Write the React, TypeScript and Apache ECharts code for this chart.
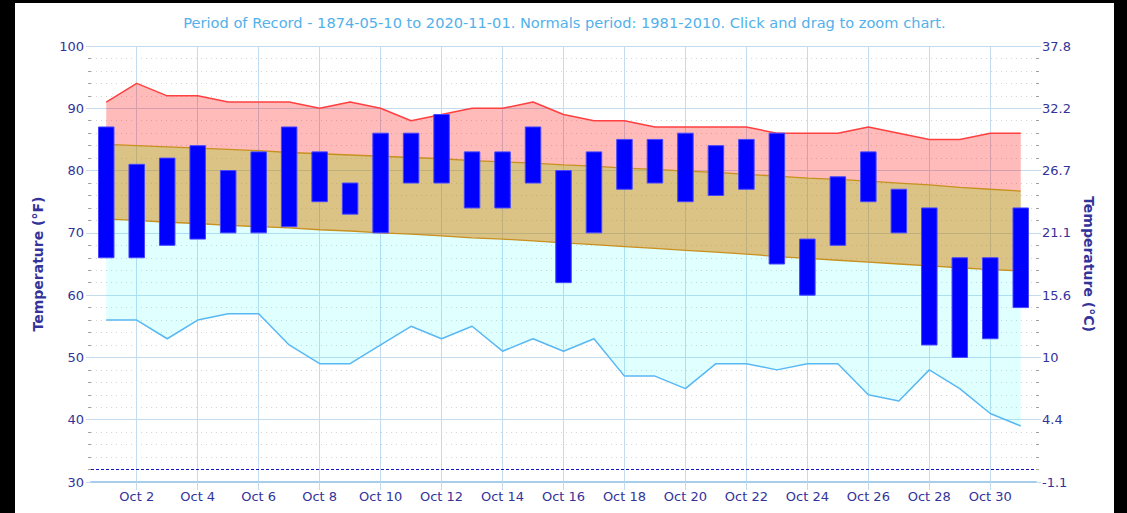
import React, { useEffect, useRef } from "react";
import * as echarts from "echarts";

const days = [1, 2, 3, 4, 5, 6, 7, 8, 9, 10, 11, 12, 13, 14, 15, 16, 17, 18, 19, 20, 21, 22, 23, 24, 25, 26, 27, 28, 29, 30, 31];
const actualHigh = [87, 81, 82, 84, 80, 83, 87, 83, 78, 86, 86, 89, 83, 83, 87, 80, 83, 85, 85, 86, 84, 85, 86, 69, 79, 83, 77, 74, 66, 66, 74];
const actualLow = [66, 66, 68, 69, 70, 70, 71, 75, 73, 70, 78, 78, 74, 74, 78, 62, 70, 77, 78, 75, 76, 77, 65, 60, 68, 75, 70, 52, 50, 53, 58];
const recordHigh = [91, 94, 92, 92, 91, 91, 91, 90, 91, 90, 88, 89, 90, 90, 91, 89, 88, 88, 87, 87, 87, 87, 86, 86, 86, 87, 86, 85, 85, 86, 86];
const recordLow = [56, 56, 53, 56, 57, 57, 52, 49, 49, 52, 55, 53, 55, 51, 53, 51, 53, 47, 47, 45, 49, 49, 48, 49, 49, 44, 43, 48, 45, 41, 39];
const normalHigh = [84.2, 84.0, 83.8, 83.6, 83.4, 83.2, 82.9, 82.7, 82.5, 82.3, 82.1, 81.9, 81.6, 81.4, 81.2, 80.9, 80.7, 80.4, 80.2, 79.9, 79.7, 79.4, 79.1, 78.8, 78.6, 78.3, 78.0, 77.7, 77.3, 77.0, 76.7];
const normalLow = [72.2, 72.0, 71.7, 71.5, 71.2, 71.0, 70.8, 70.5, 70.3, 70.0, 69.8, 69.5, 69.2, 69.0, 68.7, 68.4, 68.1, 67.8, 67.5, 67.2, 66.9, 66.6, 66.2, 65.9, 65.6, 65.3, 65.0, 64.7, 64.4, 64.1, 63.9];
const xTickDays = [2, 4, 6, 8, 10, 12, 14, 16, 18, 20, 22, 24, 26, 28, 30];
const fahrenheitTicks = [30, 40, 50, 60, 70, 80, 90, 100];
const celsiusLabels = ["-1.1", "4.4", "10", "15.6", "21.1", "26.7", "32.2", "37.8"];
const freezing = 32;
const titleText = "Period of Record - 1874-05-10 to 2020-11-01. Normals period: 1981-2010. Click and drag to zoom chart.";

const FONT = "DejaVu Sans";
const LABEL = "#33339a";
const GRID = "#c4dbee";

export default function App() {
  const ref = useRef<HTMLDivElement>(null);
  useEffect(() => {
    if (!ref.current) return;
    const chart = echarts.init(ref.current, null, { renderer: "svg" });
    const diff = (a: number[], b: number[]) => days.map((_, i) => +(a[i] - b[i]).toFixed(2));
    const bars = days.map((d, i) => [d, actualLow[i], actualHigh[i]]);

    const yCommon = {
      type: "value",
      min: fahrenheitTicks[0],
      max: fahrenheitTicks[fahrenheitTicks.length - 1],
      interval: 10,
      axisLine: { show: false },
      axisTick: { show: true, length: 5, lineStyle: { color: GRID } },
      minorTick: { show: true, splitNumber: 5, length: 3, lineStyle: { color: "#a0a0a0" } },
      nameLocation: "middle",
      nameTextStyle: { color: LABEL, fontSize: 14, fontWeight: "bold", fontFamily: FONT },
    };

    chart.setOption({
      animation: false,
      backgroundColor: "#ffffff",
      textStyle: { fontFamily: FONT },
      title: {
        text: titleText,
        left: "center",
        top: 7,
        textStyle: { color: "#52b1ea", fontSize: 14.6, fontWeight: "normal", fontFamily: FONT },
      },
      grid: { left: 76, right: 78, top: 43, bottom: 31, containLabel: false },
      xAxis: [
        {
          type: "value",
          min: 0.5,
          max: 31.5,
          axisLine: { show: true, onZero: false, lineStyle: { color: "#a6cdea", width: 2 } },
          axisTick: { show: true, length: 8, customValues: xTickDays, lineStyle: { color: GRID } },
          axisLabel: {
            customValues: xTickDays,
            formatter: (v: number) => "Oct " + v,
            color: LABEL,
            fontSize: 13,
            margin: 8,
            fontFamily: FONT,
          },
          splitLine: { show: true, lineStyle: { color: GRID, width: 1 } },
        },
        {
          type: "category",
          data: days.map(String),
          boundaryGap: true,
          show: false,
          position: "bottom",
        },
      ],
      yAxis: [
        {
          ...yCommon,
          position: "left",
          name: "Temperature (°F)",
          nameGap: 46,
          nameRotate: 90,
          axisLabel: { color: LABEL, fontSize: 13, margin: 7, fontFamily: FONT },
          splitLine: { show: true, lineStyle: { color: GRID, width: 1 } },
          minorSplitLine: { show: true, lineStyle: { color: "#d6d6d6", type: [1, 4], width: 1 } },
        },
        {
          ...yCommon,
          position: "right",
          name: "Temperature (°C)",
          nameGap: 46,
          nameRotate: -90,
          axisLabel: {
            color: LABEL,
            fontSize: 13,
            margin: 6,
            fontFamily: FONT,
            formatter: (v: number) => celsiusLabels[fahrenheitTicks.indexOf(v)] ?? "",
          },
          splitLine: { show: false },
        },
      ],
      series: [
        {
          name: "Record Low",
          type: "line",
          xAxisIndex: 1,
          stack: "band",
          data: recordLow,
          symbol: "none",
          lineStyle: { color: "#58b8f4", width: 1.5 },
          z: 3,
          markLine: {
            silent: true,
            symbol: "none",
            label: { show: false },
            lineStyle: { color: "#1414c0", type: [3, 2], width: 1.2 },
            data: [{ yAxis: freezing }],
          },
        },
        {
          name: "Normal Low",
          type: "line",
          xAxisIndex: 1,
          stack: "band",
          data: diff(normalLow, recordLow),
          symbol: "none",
          lineStyle: { color: "#c8901e", width: 1.3 },
          areaStyle: { color: "rgba(0,255,255,0.12)", opacity: 1 },
          z: 2,
        },
        {
          name: "Normal High",
          type: "line",
          xAxisIndex: 1,
          stack: "band",
          data: diff(normalHigh, normalLow),
          symbol: "none",
          lineStyle: { color: "#c8901e", width: 1.3 },
          areaStyle: { color: "rgba(184,134,11,0.5)", opacity: 1 },
          z: 2,
        },
        {
          name: "Record High",
          type: "line",
          xAxisIndex: 1,
          stack: "band",
          data: diff(recordHigh, normalHigh),
          symbol: "none",
          lineStyle: { color: "#ff4040", width: 1.5 },
          areaStyle: { color: "rgba(255,0,0,0.27)", opacity: 1 },
          z: 2,
        },
        {
          name: "Actual",
          type: "custom",
          xAxisIndex: 0,
          data: bars,
          encode: { x: 0, y: [1, 2] },
          z: 5,
          renderItem: (params: any, api: any) => {
            const x = api.value(0);
            const lo = api.value(1);
            const hi = api.value(2);
            const p1 = api.coord([x, hi]);
            const p2 = api.coord([x, lo]);
            const w = 15.5;
            return {
              type: "rect",
              shape: { x: p1[0] - w / 2, y: p1[1], width: w, height: p2[1] - p1[1] },
              style: { fill: "#0000ff", stroke: "#4646ff", lineWidth: 1 },
            };
          },
        },
      ],
    });
    return () => chart.dispose();
  }, []);

  return (
    <div style={{ position: "fixed", left: 0, top: 0, width: 1127, height: 513, background: "#000" }}>
      <div
        ref={ref}
        style={{ position: "absolute", left: 15, top: 3, width: 1099, height: 510, background: "#fff" }}
      />
    </div>
  );
}
